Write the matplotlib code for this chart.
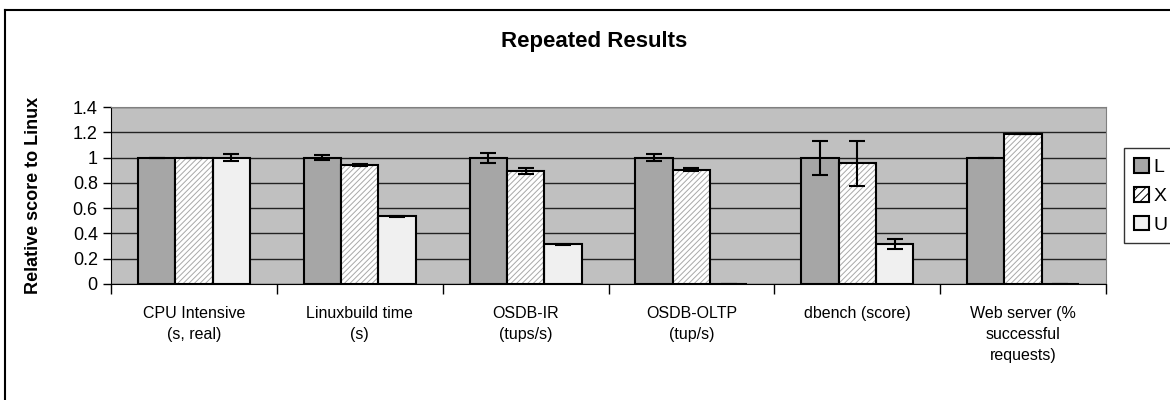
import numpy as np
import matplotlib
matplotlib.use('Agg')
import matplotlib.pyplot as plt
from matplotlib.lines import Line2D
from matplotlib.patches import Patch

plt.rcParams['font.family'] = ['Liberation Sans', 'DejaVu Sans']
plt.rcParams['hatch.linewidth'] = 0.7

categories = ['CPU Intensive\n(s, real)', 'Linuxbuild time\n(s)', 'OSDB-IR\n(tups/s)',
              'OSDB-OLTP\n(tup/s)', 'dbench (score)', 'Web server (%\nsuccessful\nrequests)']
L = [1.0, 1.0, 1.0, 1.0, 1.0, 1.0]
X = [1.0, 0.94, 0.895, 0.905, 0.955, 1.19]
U = [1.0, 0.535, 0.315, 0.0, 0.315, 0.0]
L_err = [0.0, 0.022, 0.04, 0.025, 0.135, 0.0]
X_err = [0.0, 0.01, 0.025, 0.015, 0.18, 0.0]
U_err = [0.03, 0.005, 0.003, 0.0, 0.04, 0.0]

fig = plt.figure(figsize=(11.7, 4), dpi=100)
ax = fig.add_axes([0.0949, 0.29, 0.8504, 0.4425])
ax.set_facecolor('#c0c0c0')

x = np.arange(len(categories))
w = 0.225
ekw = dict(ecolor='black', elinewidth=1.5, capsize=6, capthick=1.5, zorder=5)
ax.bar(x - w, L, w, yerr=L_err, color='#a6a6a6', edgecolor='black', linewidth=1.5,
       label='L', zorder=3, error_kw=ekw)
# hatched fill first (grey hatch), then black outline on top
ax.bar(x, X, w, color='white', edgecolor='#a8a8a8', linewidth=0, hatch='//////', zorder=3)
ax.bar(x, X, w, yerr=X_err, color='none', edgecolor='black', linewidth=1.5,
       zorder=4, error_kw=ekw)
ax.bar(x + w, U, w, yerr=U_err, color='#f0f0f0', edgecolor='black', linewidth=1.5,
       label='U', zorder=3, error_kw=ekw)

ax.set_xlim(-0.5, len(categories) - 0.5)
ax.set_ylim(0, 1.4)
ax.set_yticks(np.arange(0, 1.41, 0.2))
ax.set_yticklabels(['0', '0.2', '0.4', '0.6', '0.8', '1', '1.2', '1.4'], fontsize=13)
ax.yaxis.grid(True, color='#222222', linewidth=1.0, zorder=1)
ax.set_axisbelow(True)

ax.set_xticks(x)
ax.set_xticklabels(categories, fontsize=11.5, linespacing=1.5)
ax.tick_params(axis='x', length=0, pad=16)
ax.set_xticks(np.arange(-0.5, len(categories), 1), minor=True)
ax.tick_params(axis='x', which='minor', length=7, direction='out', width=1)
ax.tick_params(axis='y', length=6, direction='out', width=1)

for s in ['top', 'right']:
    ax.spines[s].set_color('#808080')
ax.spines['left'].set_color('black')
ax.spines['bottom'].set_color('black')

ax.set_ylabel('Relative score to Linux', fontsize=13, fontweight='bold', labelpad=22)
fig.text(0.508, 0.897, 'Repeated Results', fontsize=16, fontweight='bold',
         ha='center', va='center')

# legend handles in L, X, U order
handles = [Patch(facecolor='#a6a6a6', edgecolor='black', linewidth=1.5, label='L'),
           Patch(facecolor='white', edgecolor='black', linewidth=1.5, hatch='////', label='X'),
           Patch(facecolor='#f0f0f0', edgecolor='black', linewidth=1.5, label='U')]
leg = ax.legend(handles=handles, loc='upper left', bbox_to_anchor=(1.018, 0.768),
                borderaxespad=0, fontsize=14, frameon=True, fancybox=False,
                edgecolor='black', handlelength=0.8, handleheight=0.8,
                handletextpad=0.2, borderpad=0.5, labelspacing=0.55)
leg.get_frame().set_linewidth(1.0)

fig.add_artist(Line2D([0.0043, 0.0043], [0, 0.975], transform=fig.transFigure,
                      color='black', linewidth=1.5))
fig.add_artist(Line2D([0.0043, 1.0], [0.975, 0.975], transform=fig.transFigure,
                      color='black', linewidth=1.5))

fig.savefig('out.png', dpi=100)
